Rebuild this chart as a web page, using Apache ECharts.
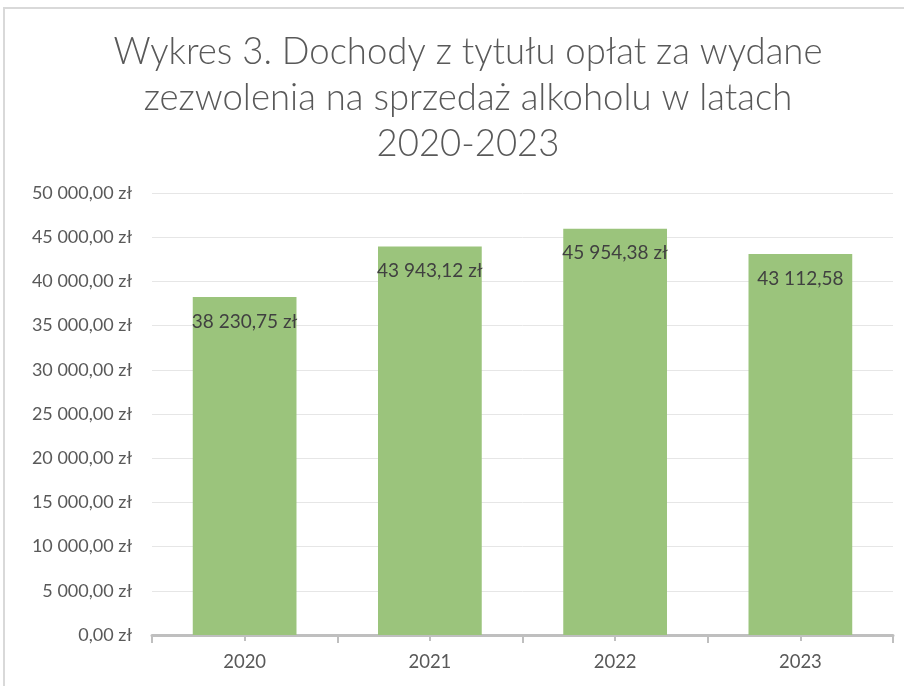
<!DOCTYPE html>
<html>
<head>
<meta charset="utf-8">
<script src="https://cdn.jsdelivr.net/npm/echarts@6/dist/echarts.min.js"></script>
<style>
  html, body { margin: 0; padding: 0; background: #fff; }
  #chart { width: 904px; height: 686px; }
</style>
</head>
<body>
<div id="chart"></div>
<script>
const years = ['2020', '2021', '2022', '2023'];
const income = [38230.75, 43943.12, 45954.38, 43112.58];
const barLabels = ['38 230,75 zł', '43 943,12 zł', '45 954,38 zł', '43 112,58'];

function formatZl(v) {
  const parts = v.toFixed(2).split('.');
  const whole = parts[0].replace(/\B(?=(\d{3})+(?!\d))/g, ' ');
  return whole + ',' + parts[1] + ' zł';
}

document.addEventListener('DOMContentLoaded', () => {
  const chart = echarts.init(document.getElementById('chart'), null, { renderer: 'canvas' });

  chart.setOption({
    backgroundColor: '#fff',
    animation: false,
    textStyle: { fontFamily: 'Lato, sans-serif' },
    graphic: [
      {
        type: 'rect',
        shape: { x: 4, y: 8, width: 1000, height: 1000 },
        style: { fill: 'none', stroke: '#d9d9d9', lineWidth: 2 }
      }
    ],
    title: {
      text: 'Wykres 3. Dochody z tytułu opłat za wydane\nzezwolenia na sprzedaż alkoholu w latach\n2020-2023',
      left: 463,
      textAlign: 'center',
      top: 24,
      textStyle: {
        fontFamily: 'Lato, sans-serif',
        fontSize: 36.5,
        fontWeight: 300,
        lineHeight: 46,
        color: '#595959'
      }
    },
    grid: { left: 152, right: 11, top: 193, bottom: 51 },
    xAxis: [
      {
        type: 'category',
        data: years,
        axisLine: { lineStyle: { color: '#bfbfbf', width: 3 } },
        axisTick: { show: true, length: 8, lineStyle: { color: '#bfbfbf', width: 2 } },
        axisLabel: { color: '#595959', fontSize: 18.5, margin: 18 }
      },
      {
        type: 'category',
        data: years,
        position: 'bottom',
        axisLine: { show: false },
        axisTick: { show: true, alignWithLabel: true, length: 6, lineStyle: { color: '#bfbfbf', width: 2 } },
        axisLabel: { show: false }
      }
    ],
    yAxis: {
      type: 'value',
      min: 0,
      max: 50000,
      interval: 5000,
      axisLine: { show: false },
      axisTick: { show: false },
      splitLine: { lineStyle: { color: '#e6e6e6', width: 1 } },
      axisLabel: {
        color: '#595959',
        fontSize: 18,
        margin: 20,
        formatter: v => formatZl(v)
      }
    },
    series: [
      {
        type: 'bar',
        data: income,
        barWidth: '56%',
        itemStyle: { color: '#9bc47c' },
        label: {
          show: true,
          position: 'insideTop',
          distance: 15,
          color: '#404040',
          fontSize: 19,
          formatter: p => barLabels[p.dataIndex]
        }
      }
    ]
  });
});
</script>
</body>
</html>
